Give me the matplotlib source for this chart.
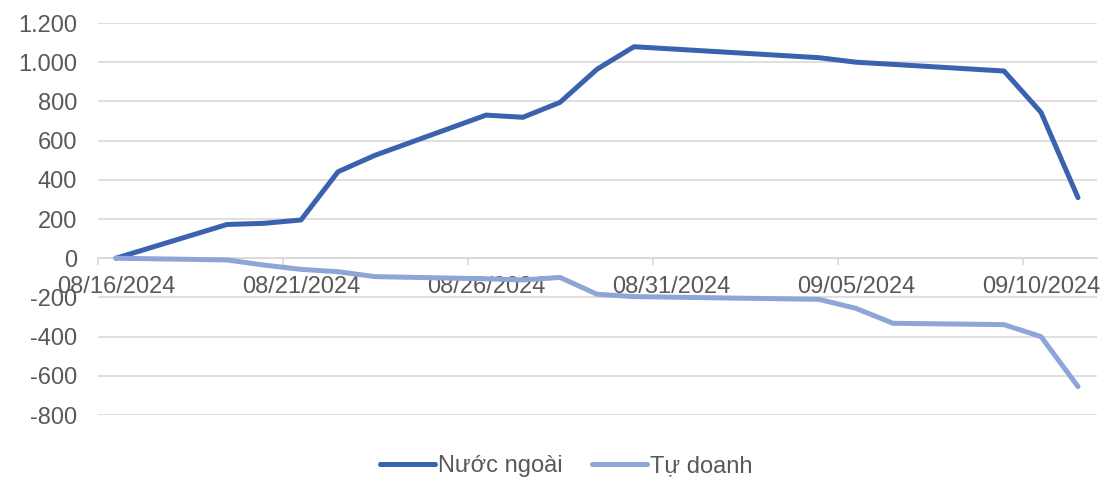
import matplotlib.pyplot as plt
import matplotlib.ticker as mticker
import pandas as pd

# trading days (cumulative net value)
dates = ['2024-08-16', '2024-08-19', '2024-08-20', '2024-08-21', '2024-08-22',
         '2024-08-23', '2024-08-26', '2024-08-27', '2024-08-28', '2024-08-29',
         '2024-08-30', '2024-09-04', '2024-09-05', '2024-09-06', '2024-09-09',
         '2024-09-10', '2024-09-11']
nuoc_ngoai = [0, 172, 178, 195, 441, 525, 730, 719, 795, 964,
              1079, 1023, 1000, 989, 955, 744, 309]
tu_doanh = [0, -9, -35, -57, -69, -94, -105, -111, -98, -184,
            -196, -210, -256, -332, -339, -400, -655]
tick_dates = ['2024-08-16', '2024-08-21', '2024-08-26', '2024-08-31',
              '2024-09-05', '2024-09-10']

x = pd.to_datetime(dates)
xt = pd.to_datetime(tick_dates)
half = pd.Timedelta(hours=12)

plt.rcParams['font.family'] = ['Liberation Sans', 'DejaVu Sans']
grey = '#595959'
grid_c = '#D9D9D9'
fs = 17

fig = plt.figure(figsize=(11.04, 4.79), dpi=100)
ax = fig.add_axes([97.5 / 1104, 1 - 415 / 479, 999 / 1104, 392 / 479])

ax.plot(x, nuoc_ngoai, color='#3A62AE', lw=3.6, label='Nước ngoài',
        solid_capstyle='round', solid_joinstyle='round', zorder=3)
ax.plot(x, tu_doanh, color='#8EA5D8', lw=3.6, label='Tự doanh',
        solid_capstyle='round', solid_joinstyle='round', zorder=3)

ax.set_ylim(-800, 1200)
ax.set_xlim(x[0] - half, x[-1] + half)
ax.yaxis.set_major_locator(mticker.MultipleLocator(200))
ax.yaxis.set_major_formatter(mticker.FuncFormatter(
    lambda v, p: f'{int(v):,}'.replace(',', '.')))
ax.grid(axis='y', color=grid_c, lw=1.2, zorder=0)

ax.set_xticks(xt)
ax.set_xticklabels([d.strftime('%m/%d/%Y') for d in xt])
ax.set_xticks([d - half for d in xt], minor=True)
ax.tick_params(axis='x', which='major', length=0, pad=13, labelsize=fs, labelcolor=grey)
ax.tick_params(axis='x', which='minor', length=5, width=1.2, color=grid_c, direction='out')
ax.tick_params(axis='y', length=0, pad=14.8, labelsize=fs, labelcolor=grey)

for s in ['top', 'right', 'left']:
    ax.spines[s].set_visible(False)
ax.spines['bottom'].set_position(('data', 0))
ax.spines['bottom'].set_color(grid_c)
ax.spines['bottom'].set_linewidth(1.2)

fig.legend(loc='center', bbox_to_anchor=(566 / 1104, 1 - 466 / 479), ncol=2,
           frameon=False, fontsize=fs, handlelength=2.33, handletextpad=0.13,
           columnspacing=1.23, labelcolor=grey)

fig.savefig('out.png', dpi=100)
